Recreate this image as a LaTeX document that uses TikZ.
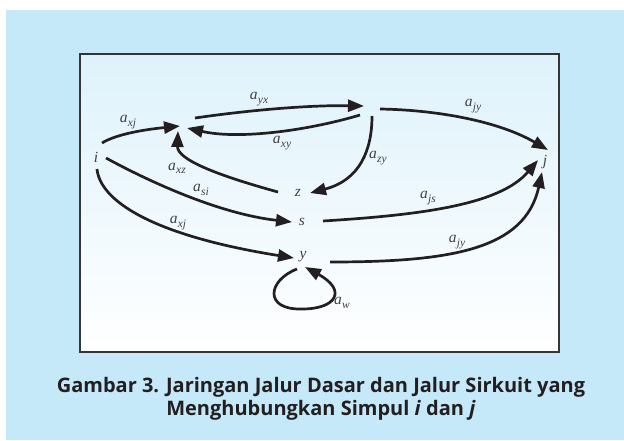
\documentclass[tikz,border=0pt]{standalone}
\usepackage{fontspec}
\newfontfamily\capfont{Open Sans}
\newfontfamily\labfont{Liberation Serif}
\usetikzlibrary{arrows.meta,calc}
\definecolor{bgblue}{RGB}{197,233,249}
\definecolor{boxtop}{RGB}{222,242,251}
\definecolor{ink}{RGB}{35,31,32}
\newcommand\asub[1]{\textit{a}\kern0.3pt\raisebox{-3.2pt}{\fontsize{11.5}{12}\selectfont\textit{#1}}}
\begin{document}
\begin{tikzpicture}[x=1pt,y=-1pt,
  edge/.style={draw=ink, line width=2.7pt, -{Triangle[length=16pt,width=12pt]}},
  lab/.style={font=\labfont\fontsize{15.5}{17}\selectfont, text=ink!85, inner sep=0pt},
  vert/.style={font=\labfont\itshape\fontsize{15.5}{17}\selectfont, text=ink!85, inner sep=0pt},
  captext/.style={font=\capfont\bfseries\fontsize{20}{24}\selectfont, text=ink, inner sep=0pt, anchor=base}]
\useasboundingbox (0,0) rectangle (624,440);
\fill[white] (0,0) rectangle (624,440);
\fill[bgblue] (6,10) rectangle (624,440);
\shade[top color=boxtop, bottom color=white] (80,54) rectangle (559,352);
\draw[ink!90, line width=1.3pt] (80,54) rectangle (559,352);

% vertices
\node[vert] (i) at (96,157) {i};
\node[vert] (j) at (545,162) {j};
\node[vert] (z) at (298,193) {z};
\node[vert] (s) at (302,222) {s};
\node[vert] (y) at (303,257) {y};
\coordinate (X) at (183,124);
\coordinate (W) at (372,107);
\coordinate (loop) at (302,309);

% edges
\draw[edge] ([shift={(6,-14)}]i.center) .. controls +(13,-8) and +(-40,4) .. ([shift={(-3,2)}]X);
\draw[edge] ([shift={(12,-6)}]X) .. controls +(55,-8) and +(-54,-1) .. ([shift={(-8,-1)}]W);
\draw[edge] ([shift={(-12,8)}]W) .. controls +(-50,15) and +(53,12) .. ([shift={(4,4)}]X);
\draw[edge] ([shift={(-20,-1)}]z.center) .. controls +(-58,-16) and +(-1,29) .. ([shift={(-5,7)}]X);
\draw[edge] ([shift={(0,9)}]W) .. controls +(0,34) and +(50,-13) .. ([shift={(12,0)}]z.center);
\draw[edge] ([shift={(8,2)}]W) .. controls +(60,1) and +(-48,-28) .. ([shift={(3,-12)}]j.center);
\draw[edge] ([shift={(10,1)}]i.center) .. controls +(44,24) and +(-72,-8) .. ([shift={(-10,0)}]s.center);
\draw[edge] ([shift={(21,-1)}]s.center) .. controls +(97,-6) and +(-38,45) .. ([shift={(-7,-2)}]j.center);
\draw[edge] ([shift={(1,12)}]i.center) .. controls +(3,31) and +(-144,-23) .. ([shift={(-9,1)}]y.center);
\draw[edge] ([shift={(27,5)}]y.center) .. controls +(120,0) and +(-17,78) .. ([shift={(-3,10)}]j.center);
\draw[edge] ([shift={(-6,12)}]y.center) .. controls (268,280) and (263,310) .. (loop)
  .. controls (337,309) and (347,290) .. ([shift={(2,10)}]y.center);

% labels
\node[lab] (l1) at (128,122) {\asub{xj}};
\node[lab] (l2) at (259,99) {\asub{yx}};
\node[lab] (l3) at (282,143) {\asub{xy}};
\node[lab] (l4) at (177,168) {\asub{xz}};
\node[lab] (l5) at (201,190) {\asub{si}};
\node[lab] (l6) at (378,158) {\asub{zy}};
\node[lab] (l7) at (473,106) {\asub{jy}};
\node[lab] (l8) at (428,198) {\asub{js}};
\node[lab] (l9) at (178,223) {\asub{xj}};
\node[lab] (l10) at (457,242) {\asub{jy}};
\node[lab] (l11) at (342,303) {\asub{w}};

% caption
\node[captext] (cap1) at (321,392) {Gambar 3. Jaringan Jalur Dasar dan Jalur Sirkuit yang};
\node[captext] (cap2) at (321,415) {Menghubungkan Simpul \textit{i} dan \textit{j}};
\end{tikzpicture}
\end{document}
